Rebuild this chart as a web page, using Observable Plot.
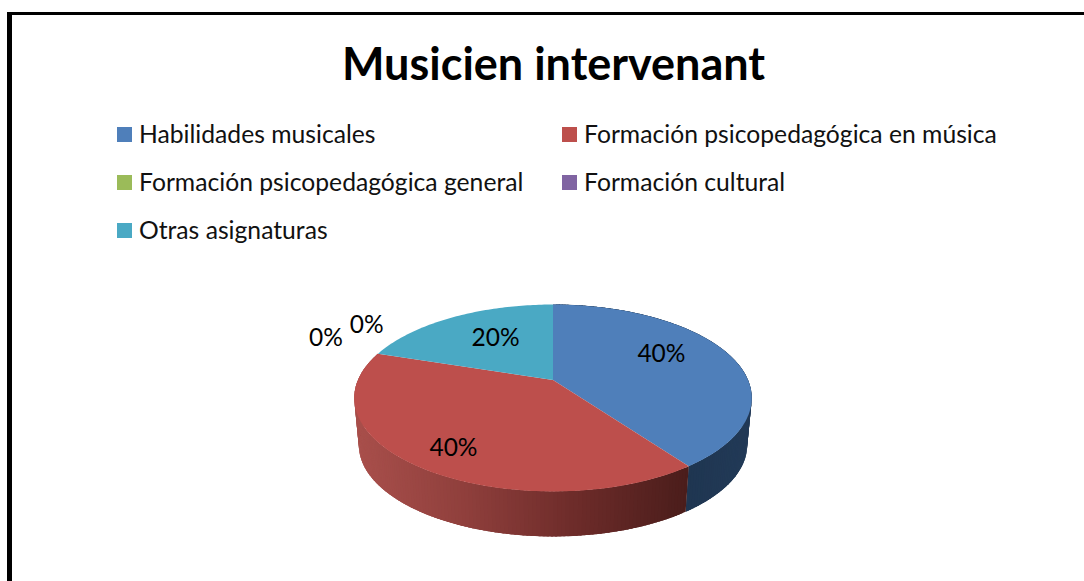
<!DOCTYPE html>
<html>
<head>
<meta charset="utf-8">
<script src="https://cdn.jsdelivr.net/npm/d3@7"></script>
<script src="https://cdn.jsdelivr.net/npm/@observablehq/plot@0.6"></script>
<style>
html,body{margin:0;padding:0;background:#fff;overflow:hidden}
#page{position:relative;width:1084px;height:581px;font-family:Lato,sans-serif;color:#000}
#frame{position:absolute;left:7px;top:12px;right:0;bottom:0;border-left:5px solid #000;border-top:3px solid #000;z-index:2;pointer-events:none}
h1{position:absolute;left:342px;top:35px;margin:0;font-size:45px;line-height:56px;font-weight:700;white-space:nowrap}
.item{position:absolute;display:flex;align-items:center;font-size:24.7px;line-height:30px;color:#111;white-space:nowrap}
.swatch{width:15px;height:15px;margin-right:7px;flex:none}
#chart{position:absolute;left:0;top:250px}
</style>
</head>
<body>
<div id="page">
  <div id="frame"></div>
  <h1>Musicien intervenant</h1>
  <div id="legend"></div>
  <div id="chart"></div>
</div>
<script>
const categories = ["Habilidades musicales", "Formación psicopedagógica en música", "Formación psicopedagógica general", "Formación cultural", "Otras asignaturas"];
const values = [40, 40, 0, 0, 20];
const labels = ["40%", "40%", "0%", "0%", "20%"];
const colors = ["#4f7fba", "#bd4f4c", "#9bbb59", "#8064a2", "#4aa9c4"];

// Label placement on the disc (angle clockwise from top, radius as a share of the pie radius)
const labelAngles = [63, 213.8, 291.8, 302.6, 327.4];
const labelRadii = [0.66, 0.8, 1.378, 1.286, 0.6];
const legendCells = [[117, 119], [562, 119], [117, 167], [562, 167], [117, 215]];

// Perspective geometry of the tilted disc
const W = 1084, H = 331, K = 0.1925, SHRINK = 0.977, DEPTH = 0.528;
const UX = 195, UY = 90, CX = 552.5, CY = 129.5;
const project = (deg, r = 1) => {
  const t = deg * Math.PI / 180, u = r * Math.sin(t), v = r * Math.cos(t), d = 1 + K * v;
  return [u / d, v / d];
};
const below = ([x, y]) => [x * SHRINK, y * SHRINK - DEPTH];

const total = d3.sum(values);
let acc = 0;
const slices = categories.map((category, i) => {
  const a0 = acc / total * 360;
  acc += values[i];
  return {category, a0, a1: acc / total * 360, label: labels[i], i};
});

// Top faces
const topFaces = slices.filter(s => s.a1 > s.a0).flatMap(s => {
  const pts = [[0, 0], ...d3.range(s.a0, s.a1, 1).map(a => project(a)), project(s.a1)];
  return pts.map(([x, y]) => ({x, y, category: s.category}));
});

// Rim: small overlapping quads so that the shading can run across the pie without seams.
// Quads are laid from the far end of each slice's shading so that each covers the previous seam.
const shadeRed = d3.scaleLinear().domain([-1, -0.45, 0.1, 0.7]).range(["#a84f4b", "#8f3f3c", "#6e2c2a", "#4a1d1b"]).clamp(true);
const shadeBlue = d3.scaleLinear().domain([0.65, 1]).range(["#1e3550", "#223a57"]).clamp(true);
const rim = [];
slices.filter(s => s.a1 > s.a0 && s.i < 2).forEach(s => {
  for (let a = s.a0; a < s.a1; a += 1) {
    const b = Math.min(a + 2.5, s.a1);
    const p = project(a), q = project(b), mid = project(a + 0.5);
    const shade = (s.i === 0 ? shadeBlue : shadeRed)(mid[0]);
    [p, q, below(q), below(p)].forEach(([x, y]) => rim.push({x, y, key: s.i + "-" + a, shade}));
  }
});

const labelRows = slices.map((s, i) => {
  const [x, y] = project(labelAngles[i], labelRadii[i]);
  return {x, y, label: s.label};
});

const plot = Plot.plot({
  width: W, height: H,
  margin: 0,
  style: {background: "transparent", overflow: "visible"},
  x: {domain: [-CX / UX, (W - CX) / UX], range: [0, W], axis: null},
  y: {domain: [CY / UY, (CY - H) / UY], range: [0, H], axis: null},
  color: {domain: categories, range: colors},
  marks: [
    Plot.line(rim, {x: "x", y: "y", z: "key", fill: {value: "shade", scale: null}, stroke: "none"}),
    Plot.line(topFaces, {x: "x", y: "y", z: "category", fill: "category", stroke: "none", curve: "linear"}),
    Plot.text(labelRows, {x: "x", y: "y", text: "label", fontSize: 24.5, fontFamily: "Lato, sans-serif", fill: "#000", textAnchor: "middle"})
  ]
});
document.getElementById("chart").appendChild(plot);

const legend = document.getElementById("legend");
categories.forEach((c, i) => {
  const item = document.createElement("div");
  item.className = "item";
  item.style.left = legendCells[i][0] + "px";
  item.style.top = legendCells[i][1] + "px";
  const sw = document.createElement("span");
  sw.className = "swatch";
  sw.style.background = colors[i];
  const tx = document.createElement("span");
  tx.textContent = c;
  item.append(sw, tx);
  legend.appendChild(item);
});
</script>
</body>
</html>
